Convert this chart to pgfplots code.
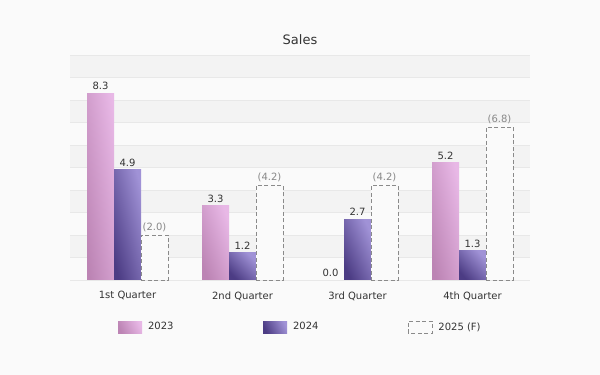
\documentclass[border=0pt]{standalone}
\usepackage{pgfplots}
\pgfplotsset{compat=1.18}
\usepackage{fontspec}
\setmainfont{DejaVu Sans}
\definecolor{bg}{HTML}{FAFAFA}
\definecolor{band}{HTML}{F3F3F3}
\definecolor{gridc}{HTML}{E8E8E8}
\definecolor{txt}{HTML}{333333}
\definecolor{ftxt}{HTML}{888888}
\definecolor{aLo}{HTML}{BC84B4}
\definecolor{aHi}{HTML}{E8B8E6}
\definecolor{bLo}{HTML}{4C3C84}
\definecolor{bHi}{HTML}{A092D6}
\definecolor{fdash}{HTML}{8A8A8A}
\pgfplotsset{
  lab/.style={nodes near coords={\pgfmathprintnumber[fixed,fixed zerofill,precision=1]{\pgfplotspointmeta}},
    every node near coord/.append style={text=txt}},
  s23/.style={draw=none, left color=aLo, right color=aHi, shading angle=#1, bar shift=-27pt, lab},
  s24/.style={draw=none, left color=bLo, right color=bHi, shading angle=#1, bar shift=0pt, lab},
}
\begin{document}
\begin{tikzpicture}[x=1pt,y=1pt]
\fill[bg] (0,0) rectangle (600,375);
\node[font=\fontsize{13}{15}\selectfont, text=txt] at (300,335) {Sales};
\begin{axis}[
  at={(70pt,95pt)}, anchor=south west,
  scale only axis, width=460pt, height=225pt,
  xmin=-0.5, xmax=3.5, ymin=0, ymax=10,
  axis line style={draw=none},
  major tick length=0pt,
  ytick=\empty,
  xtick={0,1,2,3},
  xticklabels={1st Quarter,2nd Quarter,3rd Quarter,4th Quarter},
  xticklabel style={font=\fontsize{10}{12}\selectfont, text=txt, yshift=-8pt},
  ybar=0pt, bar width=27pt,
  clip=false,
  /pgf/number format/assume math mode=true,
  legend style={at={(0.104,-0.209)}, anchor=west, draw=none, fill=none,
    legend columns=3, inner sep=0pt, font=\fontsize{10}{12}\selectfont, text=txt,
    /tikz/every odd column/.append style={column sep=4pt}},
  every node near coord/.append style={font=\fontsize{10}{12}\selectfont},
]
\fill[band] (axis cs:-0.5,1) rectangle (axis cs:3.5,2);
\fill[band] (axis cs:-0.5,3) rectangle (axis cs:3.5,4);
\fill[band] (axis cs:-0.5,5) rectangle (axis cs:3.5,6);
\fill[band] (axis cs:-0.5,7) rectangle (axis cs:3.5,8);
\fill[band] (axis cs:-0.5,9) rectangle (axis cs:3.5,10);
\pgfplotsinvokeforeach{0,...,10}{\draw[gridc] (axis cs:-0.5,#1) -- (axis cs:3.5,#1);}

% 2023
\addplot[s23=98,
  legend image code/.code={\path[draw=none, left color=aLo, right color=aHi, shading angle=115] (0pt,-6pt) rectangle (24pt,6pt);}]
  coordinates {(0,8.3)};
\addlegendentry{\makebox[113pt][l]{2023}}
\addplot[s23=110, forget plot] coordinates {(1,3.3)};
\addplot[draw=none, fill=none, bar shift=-27pt, lab, forget plot] coordinates {(2,0.0)};
\addplot[s23=103, forget plot] coordinates {(3,5.2)};
% 2024
\addplot[s24=104,
  legend image code/.code={\path[draw=none, left color=bLo, right color=bHi, shading angle=115] (0pt,-6pt) rectangle (24pt,6pt);}]
  coordinates {(0,4.9)};
\addlegendentry{\makebox[113pt][l]{2024}}
\addplot[s24=135, forget plot] coordinates {(1,1.2)};
\addplot[s24=114, forget plot] coordinates {(2,2.7)};
\addplot[s24=133, forget plot] coordinates {(3,1.3)};
% 2025 forecast
\addplot[draw=fdash, dash pattern=on 4pt off 2.5pt, fill=bg, bar shift=27pt,
  nodes near coords={(\pgfmathprintnumber[fixed,fixed zerofill,precision=1]{\pgfplotspointmeta})},
  every node near coord/.append style={text=ftxt},
  legend image code/.code={\path[draw=fdash, dash pattern=on 4pt off 2.5pt] (0pt,-6pt) rectangle (24pt,6pt);}]
  coordinates {(0,2.0) (1,4.2) (2,4.2) (3,6.8)};
\addlegendentry{\makebox[113pt][l]{2025 (F)}}
\end{axis}
\end{tikzpicture}
\end{document}
